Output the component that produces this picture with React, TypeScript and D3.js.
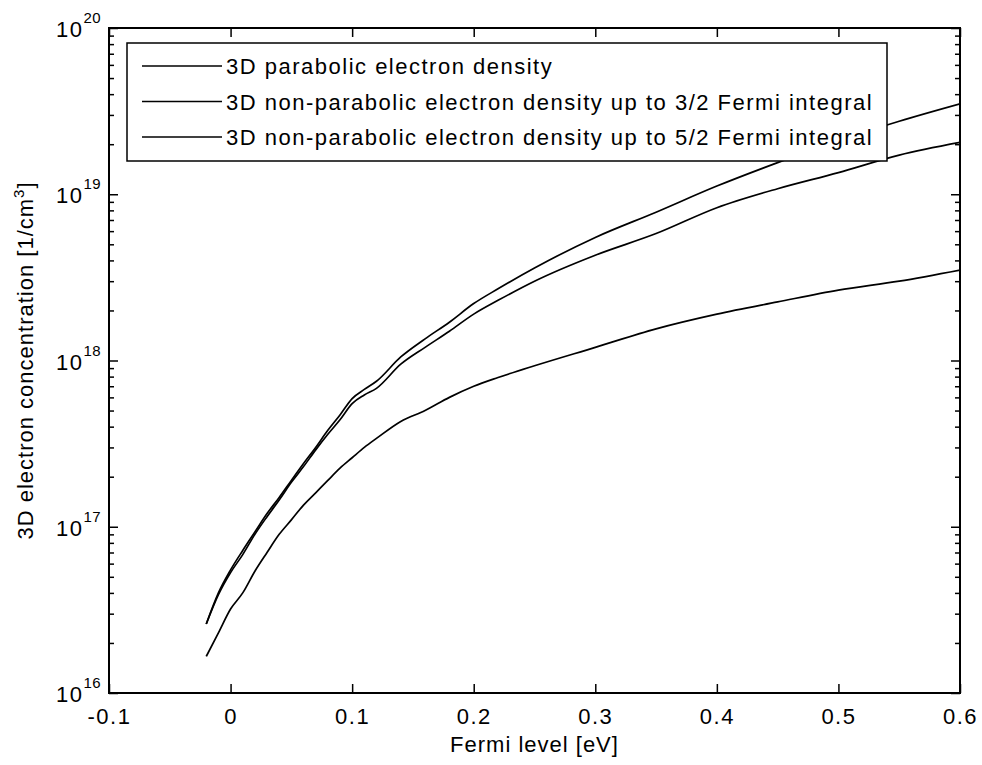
import React, { useRef, useEffect } from 'react';
import * as d3 from 'd3';

// fermi level [eV] and the three densities [1/cm^3]
const fermiLevel = [-0.02, -0.01, 0, 0.01, 0.02, 0.03, 0.04, 0.05, 0.06, 0.07, 0.08, 0.09, 0.1, 0.11, 0.12, 0.14, 0.16, 0.18, 0.2, 0.22, 0.25, 0.3, 0.35, 0.4, 0.45, 0.5, 0.55, 0.6];
const parabolic = [1.66e16, 2.3e16, 3.2e16, 4.0e16, 5.4e16, 7.0e16, 9.0e16, 1.1e17, 1.35e17, 1.6e17, 1.9e17, 2.25e17, 2.6e17, 3.0e17, 3.4e17, 4.3e17, 5.0e17, 6.0e17, 7.0e17, 7.9e17, 9.3e17, 1.2e18, 1.55e18, 1.9e18, 2.25e18, 2.65e18, 3.0e18, 3.5e18];
const nonParabolic32 = [2.6e16, 3.9e16, 5.3e16, 6.8e16, 9.0e16, 1.15e17, 1.45e17, 1.85e17, 2.3e17, 2.9e17, 3.6e17, 4.4e17, 5.5e17, 6.2e17, 6.8e17, 9.5e17, 1.2e18, 1.5e18, 1.9e18, 2.3e18, 3.0e18, 4.3e18, 5.8e18, 8.3e18, 1.08e19, 1.35e19, 1.72e19, 2.05e19];
const nonParabolic52 = [2.6e16, 4.0e16, 5.5e16, 7.2e16, 9.3e16, 1.2e17, 1.5e17, 1.9e17, 2.4e17, 3.0e17, 3.8e17, 4.7e17, 5.9e17, 6.7e17, 7.5e17, 1.05e18, 1.35e18, 1.7e18, 2.2e18, 2.7e18, 3.6e18, 5.5e18, 7.8e18, 1.12e19, 1.55e19, 2.1e19, 2.75e19, 3.5e19];

const legendLabels = [
  '3D parabolic electron density',
  '3D non-parabolic electron density up to 3/2 Fermi integral',
  '3D non-parabolic electron density up to 5/2 Fermi integral',
];
const xTicks = [-0.1, 0, 0.1, 0.2, 0.3, 0.4, 0.5, 0.6];
const xTickLabels = ['-0.1', '0', '0.1', '0.2', '0.3', '0.4', '0.5', '0.6'];
const yExponents = [16, 17, 18, 19, 20];

const FONT = '"Liberation Sans", Arial, Helvetica, sans-serif';

export default function App() {
  const ref = useRef<SVGSVGElement>(null);

  useEffect(() => {
    const width = 982, height = 765;
    const plot = { left: 109, right: 960, top: 28, bottom: 693 };

    const svg = d3.select(ref.current);
    svg.selectAll('*').remove();
    svg.attr('width', width).attr('height', height)
      .style('font-family', FONT);

    svg.append('rect').attr('width', width).attr('height', height).attr('fill', 'white');

    const x = d3.scaleLinear().domain([-0.1, 0.6]).range([plot.left, plot.right]);
    const y = d3.scaleLog().domain([1e16, 1e20]).range([plot.bottom, plot.top]);

    const majorY = yExponents.map(e => Math.pow(10, e));
    const minorY: number[] = [];
    yExponents.slice(0, -1).forEach(e => {
      for (let m = 2; m <= 9; m++) minorY.push(m * Math.pow(10, e));
    });

    const styleAxis = (g: any) => {
      g.select('.domain').remove();
      g.selectAll('line').attr('stroke', 'black').attr('stroke-width', 1.5);
    };

    // x axis bottom + top
    const xb = svg.append('g').attr('transform', `translate(0,${plot.bottom})`)
      .call(d3.axisBottom(x).tickValues(xTicks).tickSizeInner(-9).tickSizeOuter(0).tickPadding(15)
        .tickFormat((d, i) => xTickLabels[i]));
    styleAxis(xb);
    xb.selectAll('text').attr('font-size', 22).attr('font-family', FONT)
      .attr('fill', 'black').attr('letter-spacing', 1.5);

    const xt = svg.append('g').attr('transform', `translate(0,${plot.top})`)
      .call(d3.axisTop(x).tickValues(xTicks).tickSizeInner(-9).tickSizeOuter(0).tickFormat(() => ''));
    styleAxis(xt);

    // y axis left + right: major and minor ticks
    [
      { pos: plot.left, axis: d3.axisLeft },
      { pos: plot.right, axis: d3.axisRight },
    ].forEach(({ pos, axis }) => {
      const gMaj = svg.append('g').attr('transform', `translate(${pos},0)`)
        .call(axis(y).tickValues(majorY).tickSizeInner(-9).tickSizeOuter(0).tickFormat(() => ''));
      styleAxis(gMaj);
      const gMin = svg.append('g').attr('transform', `translate(${pos},0)`)
        .call(axis(y).tickValues(minorY).tickSizeInner(-5).tickSizeOuter(0).tickFormat(() => ''));
      styleAxis(gMin);
    });

    // y tick labels 10^n
    const yl = svg.append('g');
    yExponents.forEach(e => {
      const t = yl.append('text')
        .attr('x', 56).attr('y', y(Math.pow(10, e)) + 9)
        .attr('font-size', 22).attr('letter-spacing', 1.5).attr('fill', 'black');
      t.append('tspan').text('10');
      t.append('tspan').attr('dy', -14).attr('font-size', 15).attr('letter-spacing', 0.5).text(String(e));
    });

    // box
    svg.append('rect')
      .attr('x', plot.left).attr('y', plot.top)
      .attr('width', plot.right - plot.left).attr('height', plot.bottom - plot.top)
      .attr('fill', 'none').attr('stroke', 'black').attr('stroke-width', 2);

    // curves
    svg.append('clipPath').attr('id', 'plotClip').append('rect')
      .attr('x', plot.left).attr('y', plot.top)
      .attr('width', plot.right - plot.left).attr('height', plot.bottom - plot.top);

    const line = d3.line<[number, number]>()
      .x(d => x(d[0])).y(d => y(d[1]))
      .curve(d3.curveMonotoneX);

    const series = [parabolic, nonParabolic32, nonParabolic52];
    svg.append('g').attr('clip-path', 'url(#plotClip)')
      .selectAll('path').data(series).enter().append('path')
      .attr('d', s => line(fermiLevel.map((f, i) => [f, s[i]] as [number, number])))
      .attr('fill', 'none').attr('stroke', 'black').attr('stroke-width', 1.7);

    // legend
    const lg = svg.append('g');
    lg.append('rect').attr('x', 127).attr('y', 43).attr('width', 760).attr('height', 118)
      .attr('fill', 'white').attr('stroke', 'black').attr('stroke-width', 1.5);
    legendLabels.forEach((lab, i) => {
      const ly = 66 + i * 35.5;
      lg.append('line').attr('x1', 142).attr('x2', 222).attr('y1', ly).attr('y2', ly)
        .attr('stroke', 'black').attr('stroke-width', 1.6);
      lg.append('text').attr('x', 226).attr('y', ly + 8)
        .attr('font-size', 22).attr('letter-spacing', 1.5).attr('fill', 'black').text(lab);
    });

    // axis titles
    svg.append('text').attr('x', (plot.left + plot.right) / 2).attr('y', 752)
      .attr('text-anchor', 'middle').attr('font-size', 22).attr('letter-spacing', 1)
      .attr('fill', 'black').text('Fermi level [eV]');

    const yt = svg.append('text')
      .attr('transform', `translate(33,${(plot.top + plot.bottom) / 2}) rotate(-90)`)
      .attr('text-anchor', 'middle').attr('font-size', 22).attr('letter-spacing', 1)
      .attr('fill', 'black');
    yt.append('tspan').text('3D electron concentration [1/cm');
    yt.append('tspan').attr('dy', -9).attr('font-size', 15).text('3');
    yt.append('tspan').attr('dy', 9).text(']');
  }, []);

  return (
    <div style={{ position: 'absolute', left: 0, top: 0 }}>
      <svg ref={ref} style={{ display: 'block' }} />
    </div>
  );
}
